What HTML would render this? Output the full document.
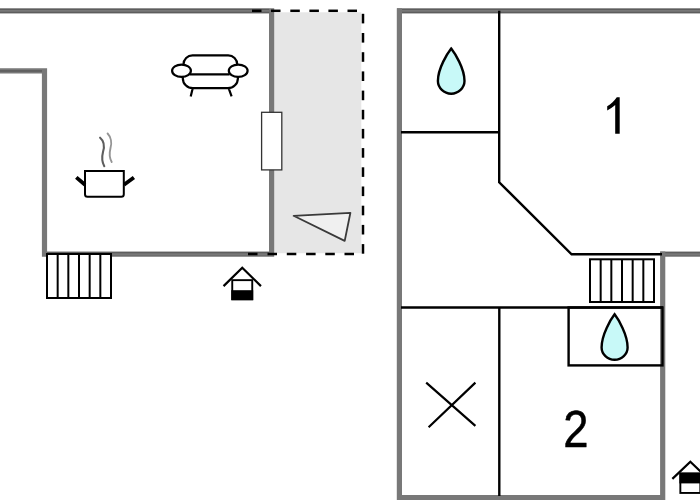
<!DOCTYPE html>
<html><head><meta charset="utf-8"><style>
html,body{margin:0;padding:0;background:#fff;width:700px;height:500px;overflow:hidden}
svg{display:block}
</style></head><body>
<svg width="700" height="500" viewBox="0 0 700 500">
<rect x="274" y="12.3" width="87.3" height="240.9" fill="#e6e6e6"/>
<path d="M0,10.85 H271.6 V254.2 H44.5 V70.9 H0" fill="none" stroke="#787878" stroke-width="5.2" stroke-linejoin="miter"/>
<rect x="0" y="8.80" width="269.1" height="1.1" fill="#000" fill-opacity="0.25"/>
<rect x="0" y="11.80" width="269.1" height="1.1" fill="#000" fill-opacity="0.25"/>
<rect x="47" y="252.15" width="222.10000000000002" height="1.1" fill="#000" fill-opacity="0.25"/>
<rect x="47" y="255.15" width="222.10000000000002" height="1.1" fill="#000" fill-opacity="0.1"/>
<rect x="0" y="70.1" width="42" height="1.7" fill="#000" fill-opacity="0.22"/>
<rect x="252.0" y="9.55" width="9.5" height="2.5" fill="#000"/>
<rect x="271.0" y="9.55" width="9.5" height="2.5" fill="#000"/>
<rect x="290.3" y="9.55" width="9.5" height="2.5" fill="#000"/>
<rect x="309.4" y="9.55" width="9.5" height="2.5" fill="#000"/>
<rect x="328.4" y="9.55" width="9.5" height="2.5" fill="#000"/>
<rect x="347.5" y="9.55" width="9.5" height="2.5" fill="#000"/>
<rect x="361.75" y="13.8" width="2.5" height="9.6" fill="#000"/>
<rect x="361.75" y="33.0" width="2.5" height="9.6" fill="#000"/>
<rect x="361.75" y="52.2" width="2.5" height="9.6" fill="#000"/>
<rect x="361.75" y="71.4" width="2.5" height="9.6" fill="#000"/>
<rect x="361.75" y="90.6" width="2.5" height="9.6" fill="#000"/>
<rect x="361.75" y="109.8" width="2.5" height="9.6" fill="#000"/>
<rect x="361.75" y="128.9" width="2.5" height="9.6" fill="#000"/>
<rect x="361.75" y="148.1" width="2.5" height="9.6" fill="#000"/>
<rect x="361.75" y="167.3" width="2.5" height="9.6" fill="#000"/>
<rect x="361.75" y="186.5" width="2.5" height="9.6" fill="#000"/>
<rect x="361.75" y="205.7" width="2.5" height="9.6" fill="#000"/>
<rect x="361.75" y="224.9" width="2.5" height="9.6" fill="#000"/>
<rect x="361.75" y="244.1" width="2.5" height="9.6" fill="#000"/>
<rect x="248.0" y="252.75" width="9.5" height="2.5" fill="#000"/>
<rect x="267.5" y="252.75" width="9.5" height="2.5" fill="#000"/>
<rect x="286.8" y="252.75" width="9.5" height="2.5" fill="#000"/>
<rect x="306.1" y="252.75" width="9.5" height="2.5" fill="#000"/>
<rect x="325.3" y="252.75" width="9.5" height="2.5" fill="#000"/>
<rect x="344.5" y="252.75" width="9.5" height="2.5" fill="#000"/>
<rect x="261.6" y="112.3" width="20.2" height="57.6" fill="#fff" stroke="#333" stroke-width="1.3"/>
<path d="M293.6,215.8 L350.4,212.8 L344.7,240.9 Z" fill="#f0f0f0" stroke="#3a3a3a" stroke-width="1.8" stroke-linejoin="round"/>
<rect x="47" y="254" width="64" height="44" fill="#fff" stroke="#000" stroke-width="2"/>
<line x1="57.67" y1="254" x2="57.67" y2="298" stroke="#000" stroke-width="2"/>
<line x1="68.33" y1="254" x2="68.33" y2="298" stroke="#000" stroke-width="2"/>
<line x1="79.00" y1="254" x2="79.00" y2="298" stroke="#000" stroke-width="2"/>
<line x1="89.67" y1="254" x2="89.67" y2="298" stroke="#000" stroke-width="2"/>
<line x1="100.33" y1="254" x2="100.33" y2="298" stroke="#000" stroke-width="2"/>
<rect x="232.25" y="280.15" width="20.00" height="19.10" fill="#fff" stroke="#000" stroke-width="1.9"/>
<rect x="231.30" y="290.20" width="21.90" height="10.00" fill="#000"/>
<path d="M223.55,286.10 L242.25,267.70 L260.95,286.10" fill="none" stroke="#000" stroke-width="2.2"/>
<rect x="680.35" y="473.55" width="20.00" height="19.40" fill="#fff" stroke="#000" stroke-width="1.9"/>
<rect x="679.40" y="472.60" width="21.90" height="10.8" fill="#000"/>
<path d="M672.35,478.90 L690.35,461.70 L708.35,478.90" fill="none" stroke="#000" stroke-width="2.2"/>
<path d="M183.5,66 V64.3 A9,9 0 0 1 192.5,55.3 H228.2 A9,9 0 0 1 237.2,64.3 V66 M190,74.4 H229.5 M182.8,76 V78.2 A10,10 0 0 0 192.8,88.2 H227.9 A10,10 0 0 0 237.9,78.2 V76 M192.6,88.7 L190.7,96.4 M228.8,88.7 L231.6,96.4" fill="none" stroke="#000" stroke-width="2.2"/>
<ellipse cx="181.5" cy="70.75" rx="9.4" ry="6.2" fill="#fff" stroke="#000" stroke-width="2.2"/>
<ellipse cx="238.2" cy="70.75" rx="9.4" ry="6.2" fill="#fff" stroke="#000" stroke-width="2.2"/>
<path d="M85,171.1 H123.8 V194.3 Q123.8,196.8 121.3,196.8 H87.5 Q85,196.8 85,194.3 Z" fill="#fff" stroke="#000" stroke-width="2"/>
<path d="M76.3,177.4 L85,184.8 M124,184.8 L133.9,177.4" stroke="#000" stroke-width="3.8"/>
<path d="M100.1,137.7 C104,141 104.5,147 103,152 C101.5,158 102.5,163 104.3,166.2" fill="none" stroke="#5e5e5e" stroke-width="2.1" stroke-linecap="round"/>
<path d="M107.6,133.5 C111,137 112,143 110.5,148 C109,154 110,159 111.7,162" fill="none" stroke="#959595" stroke-width="1.9" stroke-linecap="round"/>
<path d="M397,10.85 H700" stroke="#787878" stroke-width="5.2"/>
<path d="M399.4,8.2 V500" stroke="#787878" stroke-width="5.2"/>
<path d="M397,497.6 H662.7 V251.5" fill="none" stroke="#787878" stroke-width="5.2"/>
<path d="M660.2,254.2 H700" stroke="#787878" stroke-width="5.2"/>
<rect x="402" y="8.80" width="298" height="1.1" fill="#000" fill-opacity="0.25"/>
<rect x="402" y="11.80" width="298" height="1.1" fill="#000" fill-opacity="0.25"/>
<rect x="665.3" y="252.15" width="34.700000000000045" height="1.1" fill="#000" fill-opacity="0.25"/>
<rect x="665.3" y="255.15" width="34.700000000000045" height="1.1" fill="#000" fill-opacity="0.1"/>
<path d="M499.2,10.7 V182.3 L571.6,254.3 H662" fill="none" stroke="#000" stroke-width="2.4"/>
<path d="M401,132.3 H499.2" stroke="#000" stroke-width="2.4"/>
<path d="M401,307.5 H663" stroke="#000" stroke-width="2.4"/>
<path d="M499.3,307.5 V496" stroke="#000" stroke-width="2.4"/>
<rect x="568.6" y="307.5" width="93.9" height="57.9" fill="none" stroke="#000" stroke-width="2.4"/>
<rect x="590" y="259.3" width="64" height="42.69999999999999" fill="#fff" stroke="#000" stroke-width="2"/>
<line x1="600.67" y1="259.3" x2="600.67" y2="302" stroke="#000" stroke-width="2"/>
<line x1="611.33" y1="259.3" x2="611.33" y2="302" stroke="#000" stroke-width="2"/>
<line x1="622.00" y1="259.3" x2="622.00" y2="302" stroke="#000" stroke-width="2"/>
<line x1="632.67" y1="259.3" x2="632.67" y2="302" stroke="#000" stroke-width="2"/>
<line x1="643.33" y1="259.3" x2="643.33" y2="302" stroke="#000" stroke-width="2"/>
<path d="M426.2,382.6 L475.4,425.9 M475.4,382.6 L428.6,427.3" stroke="#000" stroke-width="2.2"/>
<path d="M451.2,48.58 C454.70,53.08 464.50,68.06 464.50,81.06 C464.50,87.72 458.51,93.70 451.2,93.70 C443.88,93.70 437.90,87.72 437.90,81.06 C437.90,68.06 447.70,53.08 451.2,48.58 Z" fill="#c8f9f8" stroke="#000" stroke-width="2.4" stroke-linejoin="miter"/>
<path d="M614.6,314.28 C618.10,318.78 627.60,334.45 627.60,347.45 C627.60,353.95 621.75,359.80 614.6,359.80 C607.45,359.80 601.60,353.95 601.60,347.45 C601.60,334.45 611.10,318.78 614.6,314.28 Z" fill="#c8f9f8" stroke="#000" stroke-width="2.4" stroke-linejoin="miter"/>
<path d="M619.7,97.3 V133.8 H615.2 V105 C612.8,107.2 609.9,109.2 607.2,110.4 V106.3 C611,104.2 614.5,100.8 616.8,97.3 Z" fill="#000"/>
<text x="0" y="0" transform="translate(575.8,446.8) scale(0.89,1)" font-family="Liberation Sans" font-size="51" text-anchor="middle" fill="#000" stroke="#000" stroke-width="0.5">2</text>
</svg>
</body></html>
